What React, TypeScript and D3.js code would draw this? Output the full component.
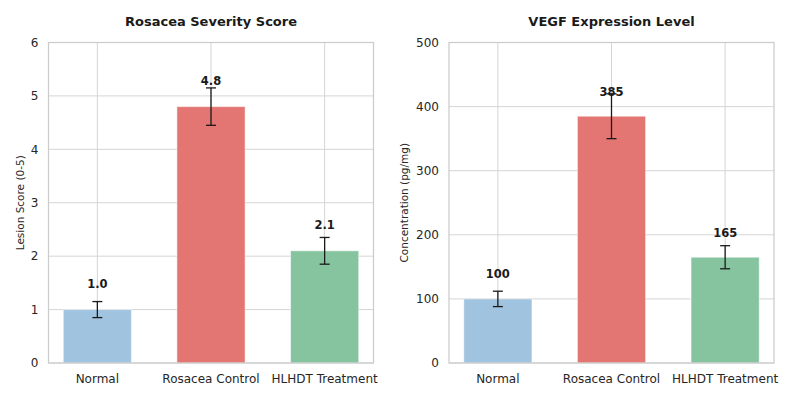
import { useRef, useEffect } from "react";
import * as d3 from "d3";

const categories = ["Normal", "Rosacea Control", "HLHDT Treatment"];
const colors = ["#a0c4e0", "#e37672", "#86c4a0"];

const lesionScores = [1.0, 4.8, 2.1];
const lesionErrors = [0.15, 0.35, 0.25];
const lesionTicks = [0, 1, 2, 3, 4, 5, 6];

const vegfLevels = [100, 385, 165];
const vegfErrors = [12, 35, 18];
const vegfTicks = [0, 100, 200, 300, 400, 500];

interface PanelSpec {
    title: string;
    ylabel: string;
    values: number[];
    errors: number[];
    ticks: number[];
    yMax: number;
    labelOffset: number;
    format: (v: number) => string;
    left: number;
    ylabelGap: number;
}

const panels: PanelSpec[] = [
    {
        title: "Rosacea Severity Score",
        ylabel: "Lesion Score (0-5)",
        values: lesionScores,
        errors: lesionErrors,
        ticks: lesionTicks,
        yMax: 6,
        labelOffset: 0.4,
        format: d3.format(".1f"),
        left: 48.5,
        ylabelGap: 25,
    },
    {
        title: "VEGF Expression Level",
        ylabel: "Concentration (pg/mg)",
        values: vegfLevels,
        errors: vegfErrors,
        ticks: vegfTicks,
        yMax: 500,
        labelOffset: 32,
        format: d3.format("d"),
        left: 449,
        ylabelGap: 41,
    },
];

const FONT = "DejaVu Sans, sans-serif";

export default function App() {
    const ref = useRef<HTMLDivElement>(null);

    useEffect(() => {
        const root = d3.select(ref.current);
        root.selectAll("*").remove();

        const svg = root.append("svg")
            .attr("width", 800)
            .attr("height", 400)
            .style("display", "block")
            .style("background", "#fff")
            .attr("font-family", FONT);

        const top = 42.5;
        const bottom = 363;
        const width = 325;

        panels.forEach(p => {
            const x = d3.scaleLinear()
                .domain([-0.43, 2.43])
                .range([p.left, p.left + width]);

            const y = d3.scaleLinear()
                .domain([0, p.yMax])
                .range([bottom, top]);

            const g = svg.append("g");

            // grid
            g.selectAll(".hgrid")
                .data(p.ticks)
                .join("line")
                .attr("x1", p.left)
                .attr("x2", p.left + width)
                .attr("y1", d => y(d))
                .attr("y2", d => y(d))
                .attr("stroke", "#d5d5d5")
                .attr("stroke-width", 1);

            g.selectAll(".vgrid")
                .data(categories)
                .join("line")
                .attr("x1", (_, i) => x(i))
                .attr("x2", (_, i) => x(i))
                .attr("y1", top)
                .attr("y2", bottom)
                .attr("stroke", "#d5d5d5")
                .attr("stroke-width", 1);

            // bars
            g.selectAll(".bar")
                .data(p.values)
                .join("rect")
                .attr("x", (_, i) => x(i - 0.3))
                .attr("width", x(0.3) - x(-0.3))
                .attr("y", d => y(d))
                .attr("height", d => y(0) - y(d))
                .attr("fill", (_, i) => colors[i])
                .attr("stroke", "#ffffff")
                .attr("stroke-opacity", 0.5)
                .attr("stroke-width", 1);

            // error bars and value labels
            p.values.forEach((v, i) => {
                const e = p.errors[i];
                const cx = x(i);
                g.append("line")
                    .attr("x1", cx).attr("x2", cx)
                    .attr("y1", y(v + e)).attr("y2", y(v - e))
                    .attr("stroke", "#1a1a1a")
                    .attr("stroke-width", 1.3);
                [v + e, v - e].forEach(c => {
                    g.append("line")
                        .attr("x1", cx - 5).attr("x2", cx + 5)
                        .attr("y1", y(c)).attr("y2", y(c))
                        .attr("stroke", "#1a1a1a")
                        .attr("stroke-width", 1.3);
                });
                g.append("text")
                    .attr("x", cx)
                    .attr("y", y(v + p.labelOffset))
                    .attr("text-anchor", "middle")
                    .attr("font-size", 11.5)
                    .attr("font-weight", "bold")
                    .attr("fill", "#1a1a1a")
                    .text(p.format(v));
            });

            // spines
            g.append("rect")
                .attr("x", p.left)
                .attr("y", top)
                .attr("width", width)
                .attr("height", bottom - top)
                .attr("fill", "none")
                .attr("stroke", "#cccccc")
                .attr("stroke-width", 1.25);

            // y tick labels
            g.selectAll(".ytick")
                .data(p.ticks)
                .join("text")
                .attr("x", p.left - 10)
                .attr("y", d => y(d))
                .attr("dy", "0.35em")
                .attr("text-anchor", "end")
                .attr("font-size", 12)
                .attr("fill", "#262626")
                .text(d => String(d));

            // x tick labels
            g.selectAll(".xtick")
                .data(categories)
                .join("text")
                .attr("x", (_, i) => x(i))
                .attr("y", bottom + 20)
                .attr("text-anchor", "middle")
                .attr("font-size", 12)
                .attr("fill", "#262626")
                .text(d => d);

            // y label
            g.append("text")
                .attr("transform", `translate(${p.left - p.ylabelGap},${(top + bottom) / 2}) rotate(-90)`)
                .attr("text-anchor", "middle")
                .attr("font-size", 10.5)
                .attr("fill", "#262626")
                .text(p.ylabel);

            // title
            g.append("text")
                .attr("x", p.left + width / 2)
                .attr("y", 25.5)
                .attr("text-anchor", "middle")
                .attr("font-size", 13)
                .attr("font-weight", "bold")
                .attr("fill", "#1a1a1a")
                .text(p.title);
        });
    }, []);

    return <div ref={ref} style={{ margin: -8 }} />;
}
